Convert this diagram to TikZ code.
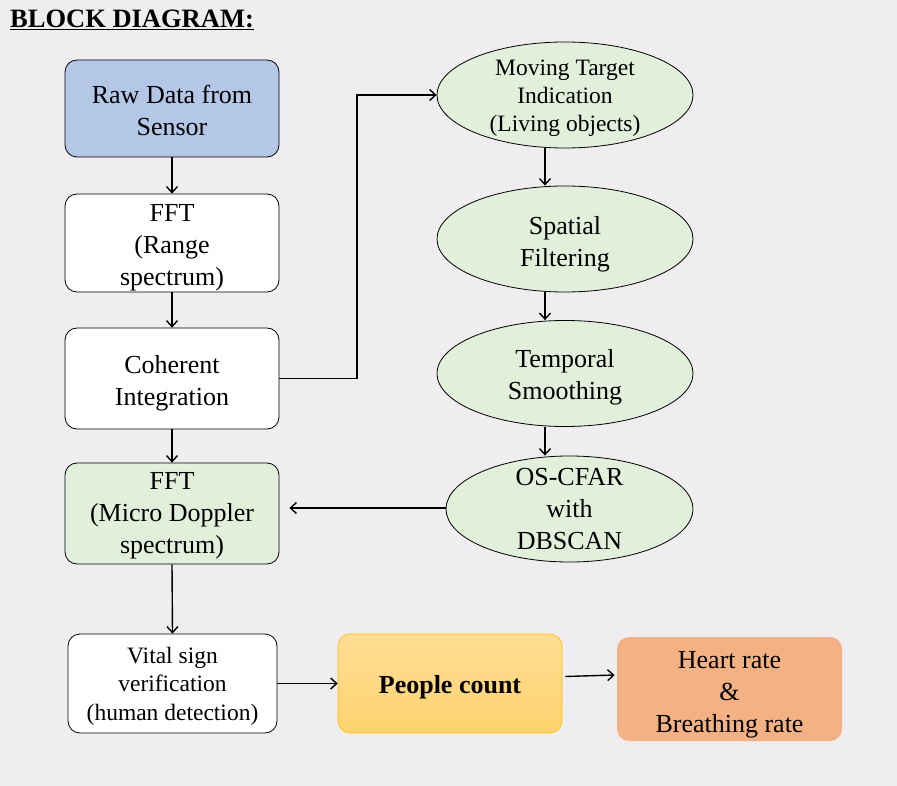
\documentclass[tikz,border=0pt]{standalone}
\usepackage{fontspec}
\setmainfont{Liberation Serif}
\newfontfamily\tms{Liberation Serif}
\usetikzlibrary{arrows.meta,shapes.geometric}
\definecolor{bgc}{HTML}{EFEDF0}
\definecolor{blueb}{HTML}{B4C7E7}
\definecolor{greenb}{HTML}{E2EFDA}
\definecolor{peoplet}{HTML}{FFDD95}
\definecolor{peopleb}{HTML}{FFD36E}
\definecolor{peopled}{HTML}{FFC000}
\definecolor{heartc}{HTML}{F4B183}
\newcommand\dn[1]{\rule{0pt}{#1}}
\tikzset{
  box/.style={draw=black, line width=0.8pt, rounded corners=12pt, minimum width=214pt, align=center, font=\tms\fontsize{26}{32}\selectfont, inner sep=0pt},
  ell/.style={ellipse, draw=black, line width=0.8pt, fill=greenb, minimum width=256pt, minimum height=106pt, align=center, inner xsep=0pt, inner ysep=-22pt, font=\tms\fontsize{26}{32}\selectfont},
  arr/.style={-{Straight Barb[length=6pt,width=11pt]}, line width=1.4pt}
}
\begin{document}
\begin{tikzpicture}[x=1pt,y=-1pt]
\fill[bgc] (0,0) rectangle (897,786);
\useasboundingbox (0,0) rectangle (897,786);
\node[anchor=west, font=\tms\fontsize{26.5}{28}\selectfont\bfseries, inner sep=0pt] (title) at (10,20) {\underline{BLOCK DIAGRAM:}};
% left column
\node[box, fill=blueb, minimum height=97pt] (raw) at (172,108.5) {\dn{23pt}Raw Data from\\Sensor};
\node[box, fill=white, minimum height=98pt] (fft1) at (172,243) {\dn{26pt}FFT\\(Range\\spectrum)};
\node[box, fill=white, minimum height=101pt] (coh) at (172,378.5) {\dn{28pt}Coherent\\Integration};
\node[box, fill=greenb, minimum height=101pt] (fft2) at (172,513.5) {\dn{22pt}FFT\\(Micro Doppler\\spectrum)};
\node[box, fill=white, minimum width=209pt, minimum height=99pt, font=\tms\fontsize{23.5}{28.5}\selectfont] (vital) at (172.5,683.5) {\dn{21pt}Vital sign\\verification\\(human detection)};
\node[box, draw=peopled, line width=0.6pt, top color=peoplet, bottom color=peopleb, minimum width=224pt, minimum height=99pt, font=\tms\fontsize{26}{32}\selectfont\bfseries] (people) at (450,683.5) {\dn{26pt}People count};
\node[box, draw=none, fill=heartc, minimum width=225pt, minimum height=104pt] (heart) at (729.5,689) {\dn{28pt}Heart rate\\\&\\Breathing rate};
% right column
\node[ell, font=\tms\fontsize{23.5}{28}\selectfont] (mti) at (565,95) {\dn{22pt}Moving Target\\Indication\\(Living objects)};
\node[ell] (spat) at (565,239) {\dn{28pt}Spatial\\Filtering};
\node[ell] (temp) at (565,373.5) {\dn{26pt}Temporal\\Smoothing};
\node[ell, minimum width=247pt, minimum height=106pt] (cfar) at (569.5,509) {OS-CFAR\\with\\DBSCAN};
% connectors
\draw[arr] (raw.south) -- (fft1.north);
\draw[arr] (fft1.south) -- (coh.north);
\draw[arr] (coh.south) -- (fft2.north);
\draw[arr] (fft2.south) -- (vital.north);
\coordinate (c1) at (357,378.5);
\draw[arr] (coh.east) -- (c1) |- (mti.west);
\draw[arr] ([xshift=-20pt]mti.south) -- ([xshift=-20pt]spat.north);
\draw[arr] ([xshift=-20pt]spat.south) -- ([xshift=-20pt]temp.north);
\draw[arr] ([xshift=-20pt]temp.south) -- ([xshift=-24.5pt]cfar.north);
\coordinate (c2) at ([xshift=10pt]cfar.west -| fft2.east);
\draw[arr] ([yshift=1pt]cfar.west) -- ([yshift=1pt]c2);
\draw[arr] (vital.east) -- (people.west);
\draw[arr] ([xshift=3pt,yshift=7pt]people.east) -- ([xshift=-2pt,yshift=14pt]heart.west);
\end{tikzpicture}
\end{document}
